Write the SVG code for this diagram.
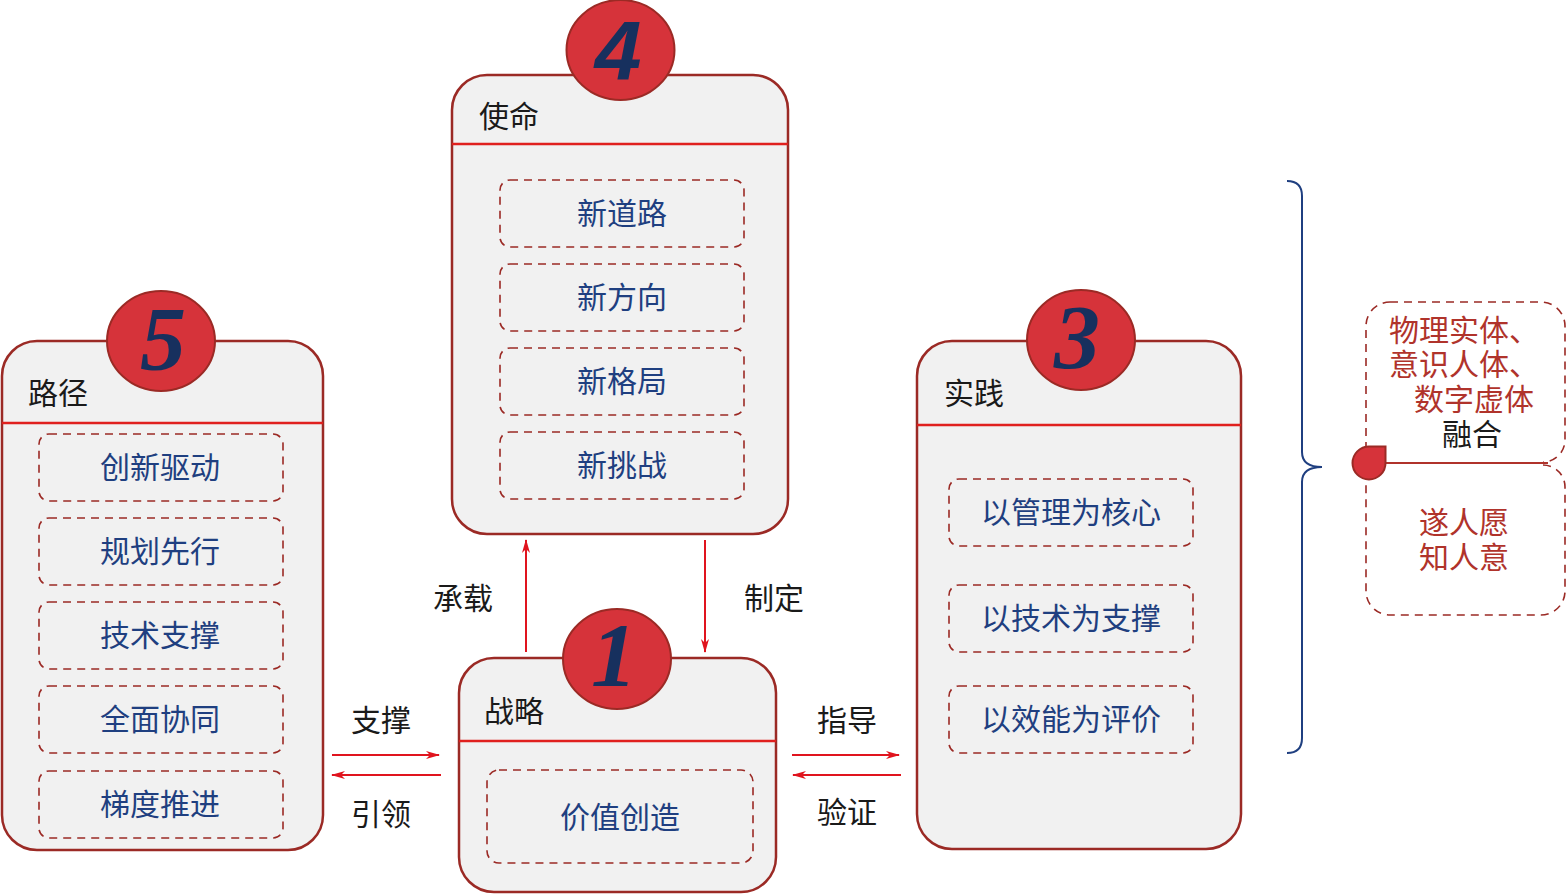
<svg xmlns="http://www.w3.org/2000/svg" width="1566" height="894" viewBox="0 0 1566 894">
<style>
.box{fill:#f1f1f1;stroke:#9b2a25;stroke-width:2.5}
.hdr{stroke:#e0201e;stroke-width:2.5}
.inner{fill:none;stroke:#9b2a25;stroke-width:1.6;stroke-dasharray:8,6}
.circ{fill:#d6333a;stroke:#9b2a25;stroke-width:2}
.title{font-family:"Noto Sans CJK SC",sans-serif;font-size:30px;fill:#1a1a1a}
.item{font-family:"Noto Sans CJK SC",sans-serif;font-size:30px;fill:#1f3f80;text-anchor:middle}
.lbl{font-family:"Noto Sans CJK SC",sans-serif;font-size:30px;fill:#1a1a1a;text-anchor:middle}
.red{font-family:"Noto Sans CJK SC",sans-serif;font-size:30px;fill:#b0332b;text-anchor:middle}
.num{font-family:"Liberation Serif",serif;font-weight:bold;font-style:italic;font-size:92px;fill:#17305e;text-anchor:middle}
.arr{stroke:#e0141e;stroke-width:2;fill:none;marker-end:url(#ah)}
</style>
<defs>
<marker id="ah" viewBox="0 0 14 8" markerWidth="14" markerHeight="8" refX="13" refY="4" orient="auto" markerUnits="userSpaceOnUse">
<path d="M0,0 L14,4 L0,8 L4,4 Z" fill="#e0141e"/>
</marker>
</defs>
<rect width="1566" height="894" fill="#ffffff"/>

<g id="node-mission">
<path class="box" d="M487,75 H753 A35,35 0 0 1 788,110 V499 A35,35 0 0 1 753,534 H487 A35,35 0 0 1 452,499 V110 A35,35 0 0 1 487,75 Z"/>
<line class="hdr" x1="452" y1="144" x2="788" y2="144"/>
<text class="title" x="479" y="127">使命</text>
<rect class="inner" x="500" y="180" width="244" height="67" rx="10"/>
<rect class="inner" x="500" y="264" width="244" height="67" rx="10"/>
<rect class="inner" x="500" y="348" width="244" height="67" rx="10"/>
<rect class="inner" x="500" y="432" width="244" height="67" rx="10"/>
<text class="item" x="622" y="224">新道路</text>
<text class="item" x="622" y="308">新方向</text>
<text class="item" x="622" y="392">新格局</text>
<text class="item" x="622" y="476">新挑战</text>
<ellipse class="circ" cx="620.5" cy="50" rx="54" ry="50"/>
<text class="num" x="618" y="80" style="font-family:'Liberation Sans',sans-serif;font-size:84px">4</text>
</g>

<g id="node-path">
<path class="box" d="M37,341 H288 A35,35 0 0 1 323,376 V815 A35,35 0 0 1 288,850 H37 A35,35 0 0 1 2,815 V376 A35,35 0 0 1 37,341 Z"/>
<line class="hdr" x1="2" y1="423" x2="323" y2="423"/>
<text class="title" x="28" y="404">路径</text>
<rect class="inner" x="39" y="434" width="244" height="67" rx="10"/>
<rect class="inner" x="39" y="518" width="244" height="67" rx="10"/>
<rect class="inner" x="39" y="602" width="244" height="67" rx="10"/>
<rect class="inner" x="39" y="686" width="244" height="67" rx="10"/>
<rect class="inner" x="39" y="771" width="244" height="67" rx="10"/>
<text class="item" x="160" y="478">创新驱动</text>
<text class="item" x="160" y="562">规划先行</text>
<text class="item" x="160" y="646">技术支撑</text>
<text class="item" x="160" y="730">全面协同</text>
<text class="item" x="160" y="815">梯度推进</text>
<ellipse class="circ" cx="161" cy="341" rx="54" ry="50"/>
<text class="num" x="163" y="370">5</text>
</g>

<g id="node-practice">
<path class="box" d="M952,341 H1206 A35,35 0 0 1 1241,376 V814 A35,35 0 0 1 1206,849 H952 A35,35 0 0 1 917,814 V376 A35,35 0 0 1 952,341 Z"/>
<line class="hdr" x1="917" y1="425" x2="1241" y2="425"/>
<text class="title" x="944" y="404">实践</text>
<rect class="inner" x="949" y="479" width="244" height="67" rx="10"/>
<rect class="inner" x="949" y="585" width="244" height="67" rx="10"/>
<rect class="inner" x="949" y="686" width="244" height="67" rx="10"/>
<text class="item" x="1071" y="523">以管理为核心</text>
<text class="item" x="1071" y="629">以技术为支撑</text>
<text class="item" x="1071" y="730">以效能为评价</text>
<ellipse class="circ" cx="1081" cy="340" rx="54" ry="50"/>
<text class="num" x="1077" y="368">3</text>
</g>

<g id="node-strategy">
<path class="box" d="M494,658 H741 A35,35 0 0 1 776,693 V857 A35,35 0 0 1 741,892 H494 A35,35 0 0 1 459,857 V693 A35,35 0 0 1 494,658 Z"/>
<line class="hdr" x1="459" y1="741" x2="776" y2="741"/>
<text class="title" x="484" y="722">战略</text>
<rect class="inner" x="487" y="770" width="266" height="93" rx="12"/>
<text class="item" x="620" y="828">价值创造</text>
<ellipse class="circ" cx="617" cy="659" rx="54" ry="50"/>
<text class="num" x="614" y="686">1</text>
</g>

<g id="node-fusion">
<path d="M1302,181 Q1287,181 1287,181" fill="none"/>
<path d="M1287,181 Q1302,181 1302,196 V452 Q1302,467 1322,467 Q1302,467 1302,482 V738 Q1302,753 1287,753" fill="none" stroke="#1f3f80" stroke-width="2"/>
<path class="inner" d="M1390,302 H1541 A24,24 0 0 1 1565,326 V440 A22,22 0 0 1 1543,462"/>
<path class="inner" d="M1366,450 V326 A24,24 0 0 1 1390,302"/>
<path class="inner" d="M1543,465 A22,22 0 0 1 1565,487 V591 A24,24 0 0 1 1541,615 H1390 A24,24 0 0 1 1366,591 V478"/>
<line x1="1385" y1="463" x2="1548" y2="463" stroke="#b0332b" stroke-width="2"/>
<path d="M1385.5,446.5 L1385.5,463 A16.5,16.5 0 1 1 1369,446.5 Z" fill="#d6333a" stroke="#9b2a25" stroke-width="2"/>
<text class="red" x="1464" y="341">物理实体、</text>
<text class="red" x="1464" y="375">意识人体、</text>
<text class="red" x="1474" y="410">数字虚体</text>
<text class="lbl" x="1472" y="445">融合</text>
<text class="red" x="1464" y="533">遂人愿</text>
<text class="red" x="1464" y="568">知人意</text>
</g>

<g id="connectors">
<line class="arr" x1="526" y1="652" x2="526" y2="540"/>
<line class="arr" x1="705" y1="540" x2="705" y2="652"/>
<line class="arr" x1="332" y1="755" x2="439" y2="755"/>
<line class="arr" x1="441" y1="775" x2="332" y2="775"/>
<line class="arr" x1="792" y1="755" x2="899" y2="755"/>
<line class="arr" x1="901" y1="775" x2="793" y2="775"/>
<text class="lbl" x="463" y="609">承载</text>
<text class="lbl" x="774" y="609">制定</text>
<text class="lbl" x="381" y="731">支撑</text>
<text class="lbl" x="381" y="825">引领</text>
<text class="lbl" x="847" y="731">指导</text>
<text class="lbl" x="847" y="823">验证</text>
</g>
</svg>
